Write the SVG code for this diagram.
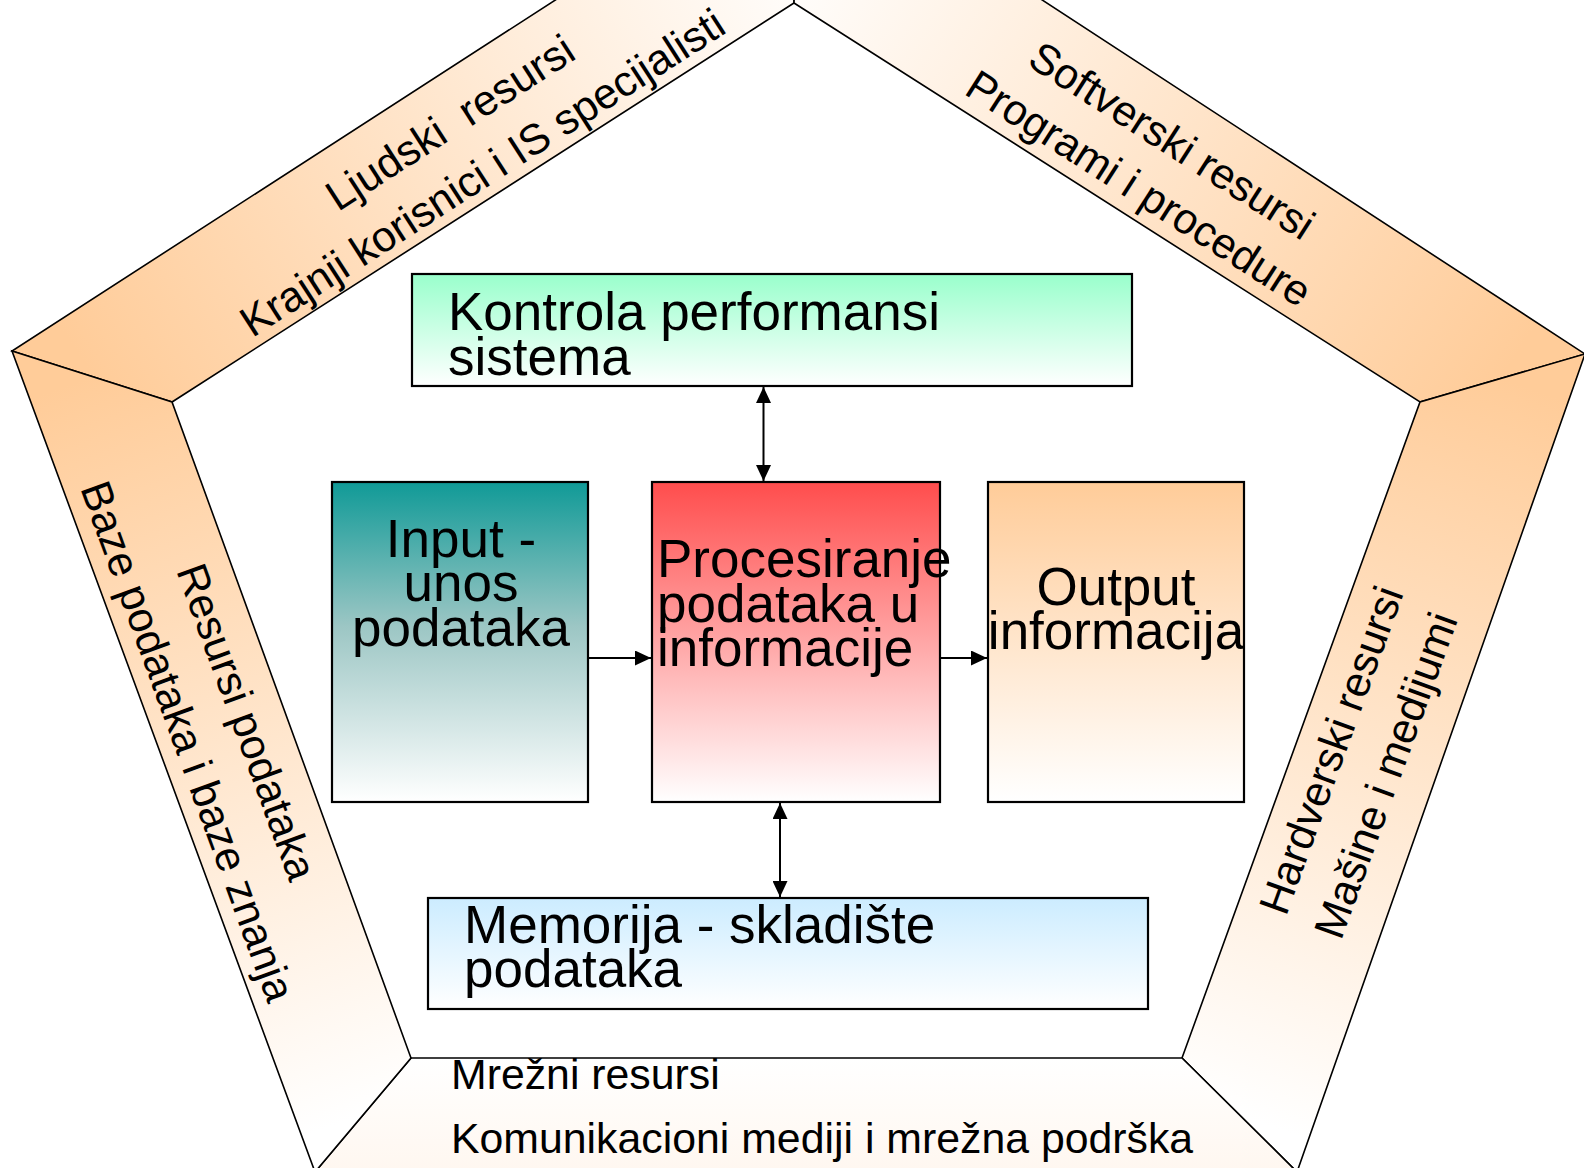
<svg xmlns="http://www.w3.org/2000/svg" width="1584" height="1168" viewBox="0 0 1584 1168">
  <style>
    .band { stroke: #000; stroke-width: 1.6; stroke-linejoin: miter; }
    .box { stroke: #000; stroke-width: 2.2; }
    .res { font-family: "Liberation Sans", Arial, sans-serif; font-size: 42.8px; fill: #000; }
    .lbl { font-family: "Liberation Sans", Arial, sans-serif; font-size: 53px; fill: #000; }
    .link { stroke: #000; stroke-width: 2; fill: none; }
  </style>
  <defs>
    <!-- resource band fills: peach at the side corners fading to white -->
    <linearGradient id="gTopLeft" gradientUnits="userSpaceOnUse" x1="92" y1="376" x2="797" y2="-78">
      <stop offset="0" stop-color="#FFCC99"/>
      <stop offset="1" stop-color="#FFFFFF"/>
    </linearGradient>
    <linearGradient id="gTopRight" gradientUnits="userSpaceOnUse" x1="1502" y1="378" x2="797" y2="-78">
      <stop offset="0" stop-color="#FFCC99"/>
      <stop offset="1" stop-color="#FFFFFF"/>
    </linearGradient>
    <linearGradient id="gLeft" gradientUnits="userSpaceOnUse" x1="92" y1="376" x2="363" y2="1115">
      <stop offset="0" stop-color="#FFCC99"/>
      <stop offset="1" stop-color="#FFFFFF"/>
    </linearGradient>
    <linearGradient id="gRight" gradientUnits="userSpaceOnUse" x1="1502" y1="378" x2="1239" y2="1115">
      <stop offset="0" stop-color="#FFCC99"/>
      <stop offset="1" stop-color="#FFFFFF"/>
    </linearGradient>
    <linearGradient id="gBottom" x1="0" y1="0" x2="0" y2="1">
      <stop offset="0" stop-color="#FFFFFF"/>
      <stop offset="1" stop-color="#FFF7F0"/>
    </linearGradient>
    <!-- box fills -->
    <linearGradient id="gMint" x1="0" y1="0" x2="0" y2="1">
      <stop offset="0" stop-color="#99FFCC"/>
      <stop offset="1" stop-color="#FFFFFF"/>
    </linearGradient>
    <linearGradient id="gTeal" x1="0" y1="0" x2="0" y2="1">
      <stop offset="0" stop-color="#109A97"/>
      <stop offset="0.45" stop-color="#9CC6C4"/>
      <stop offset="1" stop-color="#FFFFFF"/>
    </linearGradient>
    <linearGradient id="gRed" x1="0" y1="0" x2="0" y2="1">
      <stop offset="0" stop-color="#FF4D4D"/>
      <stop offset="1" stop-color="#FFFFFF"/>
    </linearGradient>
    <linearGradient id="gPeach" x1="0" y1="0" x2="0" y2="1">
      <stop offset="0" stop-color="#FFCC99"/>
      <stop offset="1" stop-color="#FFFFFF"/>
    </linearGradient>
    <linearGradient id="gBlue" x1="0" y1="0" x2="0" y2="1">
      <stop offset="0" stop-color="#CCECFF"/>
      <stop offset="1" stop-color="#FFFFFF"/>
    </linearGradient>
    <marker id="arrow" markerUnits="userSpaceOnUse" markerWidth="16" markerHeight="15" refX="16" refY="7.5" orient="auto-start-reverse">
      <path d="M0,0 L16,7.5 L0,15 Z" fill="#000"/>
    </marker>
  </defs>

  <rect width="1584" height="1168" fill="#FFFFFF"/>

  <!-- pentagon frame of resources -->
  <g id="band-ljudski">
    <polygon class="band" fill="url(#gTopLeft)" points="800,-158 794,3 172,402 12,351"/>
    <g transform="translate(458,135) rotate(-32.8)">
      <text class="res" text-anchor="middle" x="0" y="0">Ljudski&#160; resursi</text>
      <text class="res" text-anchor="middle" x="0" y="59.5">Krajnji korisnici i IS specijalisti</text>
    </g>
  </g>

  <g id="band-softverski">
    <polygon class="band" fill="url(#gTopRight)" points="800,-158 1585,354 1420,402 794,3"/>
    <g transform="translate(1164,153) rotate(32.6)">
      <text class="res" text-anchor="middle" x="0" y="0">Softverski resursi</text>
      <text class="res" text-anchor="middle" x="-2" y="58">Programi i procedure</text>
    </g>
  </g>

  <g id="band-hardverski">
    <polygon class="band" fill="url(#gRight)" points="1585,354 1297,1172 1182,1058 1420,402"/>
    <g transform="translate(1345,755) rotate(-70)">
      <text class="res" text-anchor="middle" x="0" y="0">Hardverski resursi</text>
      <text class="res" text-anchor="middle" x="-5" y="60">Mašine i medijumi</text>
    </g>
  </g>

  <g id="band-mrezni">
    <polygon class="band" fill="url(#gBottom)" points="1297,1172 315,1172 411,1058 1182,1058"/>
    <text class="res" x="451" y="1089">Mrežni resursi</text>
    <text class="res" x="451" y="1153">Komunikacioni mediji i mrežna podrška</text>
  </g>

  <g id="band-podaci">
    <polygon class="band" fill="url(#gLeft)" points="12,351 172,402 411,1058 315,1172"/>
    <g transform="translate(233,727) rotate(70)">
      <text class="res" text-anchor="middle" x="0" y="0">Resursi podataka</text>
      <text class="res" text-anchor="middle" x="-2" y="62">Baze podataka i baze znanja</text>
    </g>
  </g>

  <!-- system activities -->
  <g id="node-kontrola">
    <rect class="box" fill="url(#gMint)" x="412" y="274" width="720" height="112"/>
    <text class="lbl" x="448" y="330">Kontrola performansi</text>
    <text class="lbl" x="448" y="375">sistema</text>
  </g>

  <g id="node-input">
    <rect class="box" fill="url(#gTeal)" x="332" y="482" width="256" height="320"/>
    <text class="lbl" text-anchor="middle" x="461" y="557">Input -</text>
    <text class="lbl" text-anchor="middle" x="461" y="601">unos</text>
    <text class="lbl" text-anchor="middle" x="461" y="646">podataka</text>
  </g>

  <g id="node-procesiranje">
    <rect class="box" fill="url(#gRed)" x="652" y="482" width="288" height="320"/>
    <text class="lbl" x="657" y="577">Procesiranje</text>
    <text class="lbl" x="657" y="621.5">podataka u</text>
    <text class="lbl" x="657" y="666">informacije</text>
  </g>

  <g id="node-output">
    <rect class="box" fill="url(#gPeach)" x="988" y="482" width="256" height="320"/>
    <text class="lbl" text-anchor="middle" x="1116" y="605">Output</text>
    <text class="lbl" text-anchor="middle" x="1116" y="649">informacija</text>
  </g>

  <g id="node-memorija">
    <rect class="box" fill="url(#gBlue)" x="428" y="898" width="720" height="111"/>
    <text class="lbl" x="464" y="943">Memorija - skladište</text>
    <text class="lbl" x="464" y="987">podataka</text>
  </g>

  <!-- flows between activities -->
  <g id="connectors">
    <line class="link" x1="763.5" y1="387" x2="763.5" y2="481" marker-start="url(#arrow)" marker-end="url(#arrow)"/>
    <line class="link" x1="780" y1="803" x2="780" y2="897" marker-start="url(#arrow)" marker-end="url(#arrow)"/>
    <line class="link" x1="589" y1="658" x2="651" y2="658" marker-end="url(#arrow)"/>
    <line class="link" x1="941" y1="658" x2="987" y2="658" marker-end="url(#arrow)"/>
  </g>
</svg>
